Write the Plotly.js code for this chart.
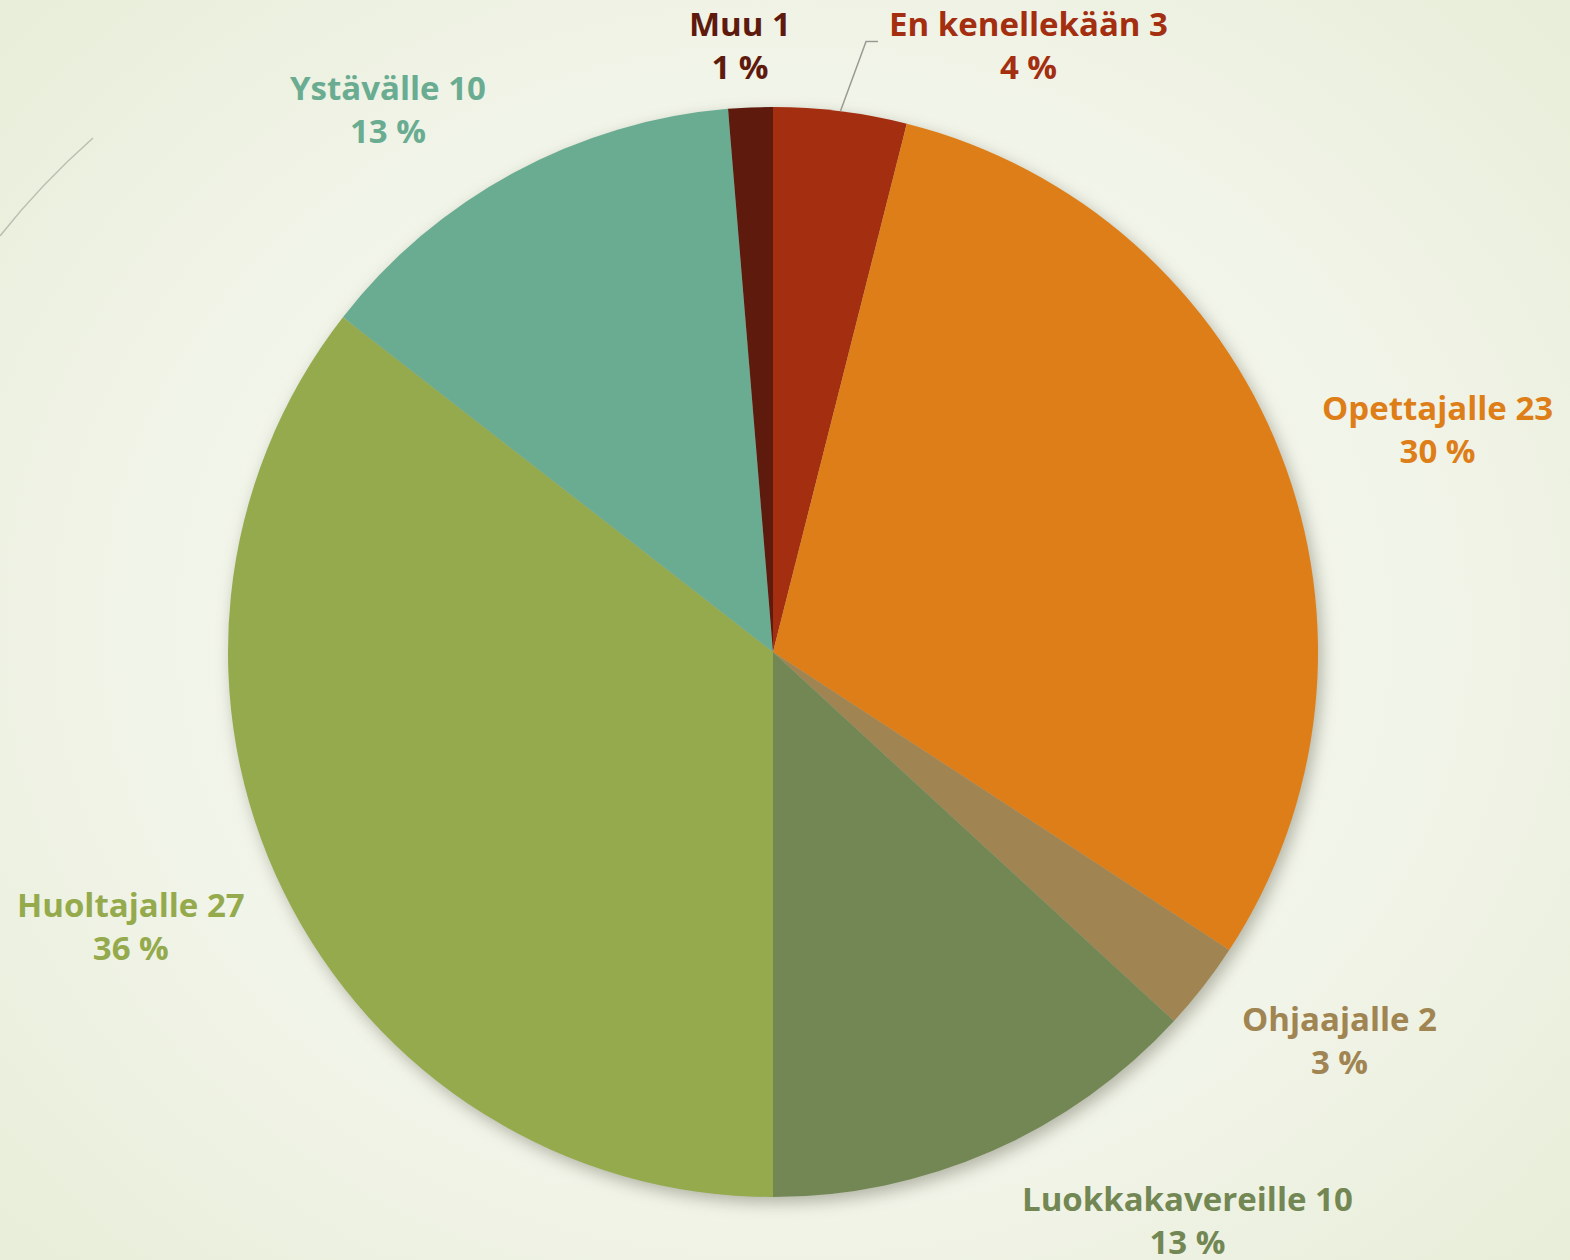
<!DOCTYPE html>
<html>
<head>
<meta charset="utf-8">
<script src="https://cdn.plot.ly/plotly-3.0.1.min.js"></script>
<style>
  html, body { margin: 0; padding: 0; }
  body {
    width: 1570px; height: 1260px; overflow: hidden;
    background: radial-gradient(ellipse 75% 80% at 50% 50%, #f7f8f2 0%, #f1f4e8 55%, #e6ecd5 100%);
  }
  #chart { width: 1570px; height: 1260px; }
  #chart .pielayer { filter: drop-shadow(4px 6px 8px rgba(60, 60, 40, 0.35)); }
</style>
</head>
<body>
<div id="chart"></div>
<script>
// Vastaukset: kenelle kerrot (kierto alkaa ylhäältä, myötäpäivään)
const labels = ["En kenellekään", "Opettajalle", "Ohjaajalle", "Luokkakavereille", "Huoltajalle", "Ystävälle", "Muu"];
const counts = [3, 23, 2, 10, 27, 10, 1];
const colors = ["#a32e10", "#de7e18", "#a08451", "#738754", "#94aa4c", "#6aac91", "#5e1a0d"];

// Tekstien sijainti: kulman siirto (astetta) ja etäisyys keskipisteestä (px)
const labelNudge = [
  { da: 15.7, r: 658 },
  { da: 2.8, r: 701 },
  { da: -3.5, r: 687 },
  { da: -12.4, r: 703 },
  { da: 2.9, r: 698 },
  { da: -6.9, r: 666 },
  { da: -0.7, r: 608 },
];

const W = 1570, H = 1260;
const margin = { l: 228, r: 252, t: 107, b: 63 };
const plotW = W - margin.l - margin.r; // 1090
const R = plotW / 2;

const total = counts.reduce((a, b) => a + b, 0);

// pikselin muunnos paperikoordinaateiksi (keskipisteestä)
function toPaper(dx, dy) {
  return { x: 0.5 + dx / plotW, y: 0.5 - dy / plotW };
}

const annotations = [];
const shapes = [];
let cum = 0;
counts.forEach((v, i) => {
  const mid = ((cum + v / 2) / total) * 360;
  cum += v;
  const a = ((mid + labelNudge[i].da) * Math.PI) / 180;
  const dx = labelNudge[i].r * Math.sin(a);
  const dy = -labelNudge[i].r * Math.cos(a);
  const p = toPaper(dx, dy);
  const pct = Math.round((v / total) * 100) + " %";
  annotations.push({
    xref: "paper", yref: "paper",
    x: p.x, y: p.y, xanchor: "center", yanchor: "middle",
    text: labels[i] + " " + v + "<br>" + pct,
    showarrow: false,
    align: "center",
    font: { family: "'Open Sans', Lato, sans-serif", size: 33, color: colors[i], weight: 700 },
  });
  // johtoviiva vain ensimmäiselle viipaleelle
  if (i === 0) {
    const m = (mid * Math.PI) / 180;
    const e = toPaper(R * Math.sin(m), -R * Math.cos(m));
    const k = toPaper(dx - 162, dy - 4);
    const t = toPaper(dx - 150, dy - 4);
    shapes.push({
      type: "path", xref: "paper", yref: "paper",
      path: `M ${e.x} ${e.y} L ${k.x} ${k.y} L ${t.x} ${t.y}`,
      line: { color: "#9a9a94", width: 1.5 },
    });
  }
});

// taustan koristekaari vasemmassa yläkulmassa
const a0 = toPaper(0 - 773, 236 - 652);
const a1 = toPaper(45 - 773, 180 - 652);
const a2 = toPaper(93 - 773, 138 - 652);
shapes.push({
  type: "path", xref: "paper", yref: "paper", layer: "below",
  path: `M ${a0.x} ${a0.y} Q ${a1.x - 0.004} ${a1.y - 0.004} ${a2.x} ${a2.y}`,
  line: { color: "rgba(150,150,140,0.55)", width: 1.5 },
});

const data = [{
  type: "pie",
  labels: labels,
  values: counts,
  sort: false,
  direction: "clockwise",
  rotation: 0,
  textinfo: "none",
  hoverinfo: "label+value+percent",
  marker: { colors: colors, line: { width: 0 } },
}];

const layout = {
  width: W, height: H,
  margin: margin,
  showlegend: false,
  paper_bgcolor: "rgba(0,0,0,0)",
  plot_bgcolor: "rgba(0,0,0,0)",
  annotations: annotations,
  shapes: shapes,
};

Plotly.newPlot("chart", data, layout, { displayModeBar: false, staticPlot: true });
</script>
</body>
</html>
